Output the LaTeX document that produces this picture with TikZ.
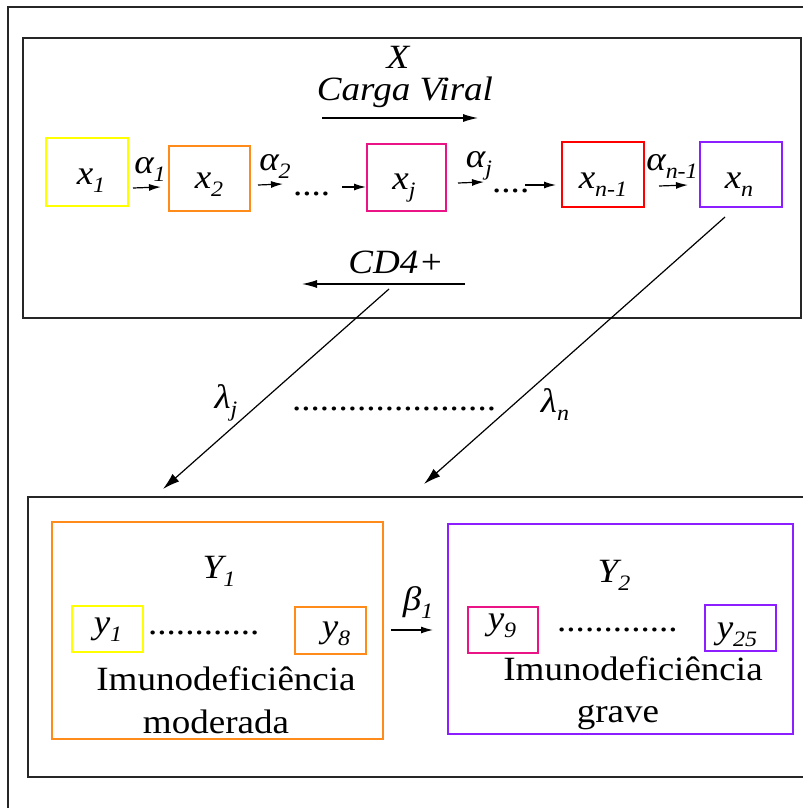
\documentclass[tikz,border=0pt]{standalone}
\usepackage{fontspec}
\setmainfont{Liberation Serif}[FakeStretch=1.09]
\usetikzlibrary{arrows.meta}
\definecolor{cyel}{RGB}{255,255,0}
\definecolor{corg}{RGB}{255,140,26}
\definecolor{cpnk}{RGB}{235,20,135}
\definecolor{cred}{RGB}{255,0,0}
\definecolor{cpur}{RGB}{140,30,255}
\newcommand{\sbs}[1]{\raisebox{-8pt}{\fontsize{22}{24}\selectfont #1}}
\tikzset{
  frame/.style={draw=black!85, line width=1.5pt},
  box/.style={draw, line width=1.5pt, inner sep=0pt, outer sep=0pt},
  lbl/.style={inner sep=0pt, anchor=base, font=\fontsize{34}{40}\selectfont\itshape},
  rom/.style={inner sep=0pt, anchor=base, font=\fontsize{34}{40}\selectfont},
  dots/.style={inner sep=0pt, anchor=base west, font=\fontsize{34}{40}\selectfont},
  arr/.style={line width=1.2pt, -{Latex[length=12pt,width=7pt]}},
  bigarr/.style={line width=1.2pt, -{Latex[length=15pt,width=8pt]}}
}
\begin{document}
\begin{tikzpicture}[x=1pt,y=-1pt]
\useasboundingbox (0,0) rectangle (803,808);
% outer frame
\draw[frame] (803,7) -- (8,7) -- (8,808);
% top box
\draw[frame] (23,38) rectangle (801,318);
% bottom box
\draw[frame] (803,497) -- (28,497) -- (28,777) -- (803,777);

% top labels
\node[lbl] (X) at (398,68) {X};
\node[lbl] (cv) at (405,100) {Carga Viral};
\coordinate (cvs) at (322,118);
\coordinate (cve) at (478,118);
\draw[bigarr] (cvs) -- (cve);

% state boxes
\node[box, draw=cyel, minimum width=82pt, minimum height=68pt] (x1) at (87,172) {};
\node[box, draw=corg, minimum width=81pt, minimum height=65pt] (x2) at (209.5,178.5) {};
\node[box, draw=cpnk, minimum width=79pt, minimum height=67pt] (xj) at (406.5,177.5) {};
\node[box, draw=cred, minimum width=82pt, minimum height=65pt] (xn1) at (603,174.5) {};
\node[box, draw=cpur, minimum width=82pt, minimum height=65pt] (xn) at (741,174.5) {};

\node[lbl] (lx1) at (91,184) {x\sbs{1}};
\node[lbl] (lx2) at (209,188) {x\sbs{2}};
\node[lbl] (lxj) at (404,189) {x\sbs{j}};
\node[lbl] (lxn1) at (603,188) {x\sbs{n-1}};
\node[lbl] (lxn) at (739,188) {x\sbs{n}};

% alpha arrows
\coordinate (a1s) at (133,188); \coordinate (a1e) at (161,187);
\draw[arr] (a1s) -- (a1e);
\node[lbl] (la1) at (150,173) {α\sbs{1}};
\coordinate (a2s) at (258,185); \coordinate (a2e) at (283,184);
\draw[arr] (a2s) -- (a2e);
\node[lbl] (la2) at (275,170) {α\sbs{2}};
\node[dots] (d1) at (293,195) {....};
\coordinate (a3s) at (342,187); \coordinate (a3e) at (366,187);
\draw[arr] (a3s) -- (a3e);
\coordinate (ajs) at (458,183); \coordinate (aje) at (484,182);
\draw[arr] (ajs) -- (aje);
\node[lbl] (laj) at (479,167) {α\sbs{j}};
\node[dots] (d2) at (492,192) {....};
\coordinate (a4s) at (525,185); \coordinate (a4e) at (556,185);
\draw[arr] (a4s) -- (a4e);
\coordinate (ans) at (659,186); \coordinate (ane) at (688,185);
\draw[arr] (ans) -- (ane);
\node[lbl] (lan) at (672,170) {α\sbs{n-1}};

% CD4+
\node[lbl] (cd4) at (396,273) {CD4+};
\coordinate (cds) at (465,284);
\coordinate (cde) at (302,284);
\draw[bigarr] (cds) -- (cde);

% lambda connectors
\coordinate (ljs) at (389,289);
\coordinate (lje) at (163,489);
\draw[line width=1.2pt, -{Latex[length=17pt,width=10pt]}] (ljs) -- (lje);
\coordinate (lns) at (725,217);
\coordinate (lne) at (424,484);
\draw[line width=1.2pt, -{Latex[length=17pt,width=10pt]}] (lns) -- (lne);
\node[lbl] (llj) at (226,408) {λ\sbs{j}};
\node[lbl] (lln) at (555,412) {λ\sbs{n}};
\node[dots] (d3) at (292,410) {......................};

% Y1
\node[box, draw=corg, minimum width=331pt, minimum height=217pt] (Y1) at (217.5,630.5) {};
\node[lbl] (lY1) at (219,578) {Y\sbs{1}};
\node[box, draw=cyel, minimum width=71pt, minimum height=46pt] (y1) at (107.5,629) {};
\node[box, draw=corg, minimum width=71pt, minimum height=47pt] (y8) at (330.5,630.5) {};
\node[lbl] (ly1) at (108,633) {y\sbs{1}};
\node[lbl] (ly8) at (336,637) {y\sbs{8}};
\node[dots] (d4) at (148,634) {............};
\node[rom] (im1) at (226,690) {Imunodeficiência};
\node[rom] (mod) at (216,733) {moderada};

% beta
\coordinate (bs) at (391,630); \coordinate (be) at (433,630);
\draw[arr] (bs) -- (be);
\node[lbl] (lb1) at (418,610) {β\sbs{1}};

% Y2
\node[box, draw=cpur, minimum width=345pt, minimum height=210pt] (Y2) at (620.5,629) {};
\node[lbl] (lY2) at (614,582) {Y\sbs{2}};
\node[box, draw=cpnk, minimum width=70pt, minimum height=46pt] (y9) at (503,630) {};
\node[box, draw=cpur, minimum width=71pt, minimum height=46pt] (y25) at (740.5,628) {};
\node[lbl] (ly9) at (502,629) {y\sbs{9}};
\node[lbl] (ly25) at (737,638) {y\sbs{25}};
\node[dots] (d5) at (557,631) {.............};
\node[rom] (im2) at (633,680) {Imunodeficiência};
\node[rom] (grv) at (618,722) {grave};
\end{tikzpicture}
\end{document}
